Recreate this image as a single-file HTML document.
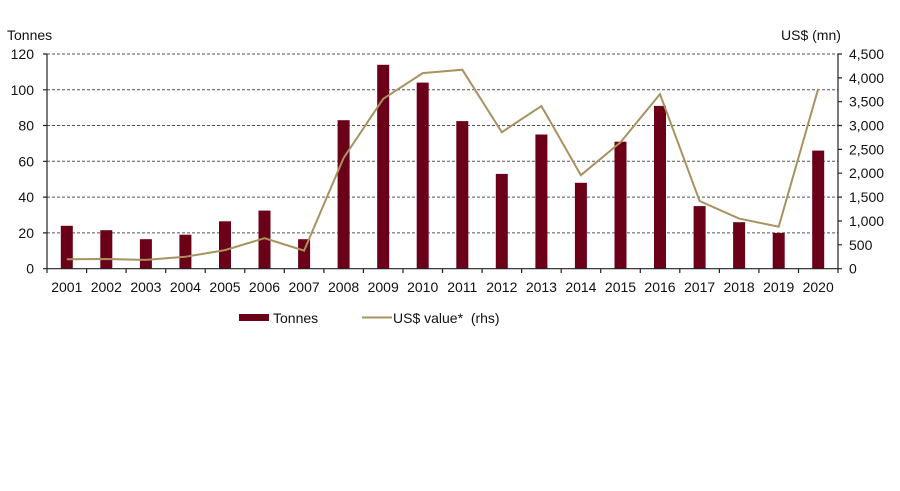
<!DOCTYPE html>
<html><head><meta charset="utf-8"><style>html,body{margin:0;padding:0;background:#fff}svg{display:block}text{font-family:"Liberation Sans",Arial,sans-serif;font-size:14px;fill:#111}</style></head><body>
<svg width="900" height="491" viewBox="0 0 900 491" xmlns="http://www.w3.org/2000/svg">
<g stroke="#555" stroke-width="1" stroke-dasharray="3,2">
<line x1="47" y1="54" x2="838" y2="54"/><line x1="47" y1="89.8" x2="838" y2="89.8"/><line x1="47" y1="125.5" x2="838" y2="125.5"/><line x1="47" y1="161.3" x2="838" y2="161.3"/><line x1="47" y1="197.1" x2="838" y2="197.1"/><line x1="47" y1="232.9" x2="838" y2="232.9"/>
</g>
<g fill="#6b0019">
<rect x="60.8" y="225.8" width="12" height="42.9"/><rect x="100.3" y="230.2" width="12" height="38.5"/><rect x="139.9" y="239.2" width="12" height="29.5"/><rect x="179.4" y="234.7" width="12" height="34"/><rect x="219" y="221.3" width="12" height="47.4"/><rect x="258.5" y="210.6" width="12" height="58.1"/><rect x="298.1" y="239.2" width="12" height="29.5"/><rect x="337.6" y="120.2" width="12" height="148.5"/><rect x="377.2" y="64.8" width="12" height="203.9"/><rect x="416.7" y="82.6" width="12" height="186.1"/><rect x="456.3" y="121.1" width="12" height="147.6"/><rect x="495.8" y="173.9" width="12" height="94.8"/><rect x="535.4" y="134.5" width="12" height="134.2"/><rect x="574.9" y="182.8" width="12" height="85.9"/><rect x="614.5" y="141.7" width="12" height="127"/><rect x="654" y="105.9" width="12" height="162.8"/><rect x="693.6" y="206.1" width="12" height="62.6"/><rect x="733.1" y="222.2" width="12" height="46.5"/><rect x="772.7" y="232.9" width="12" height="35.8"/><rect x="812.2" y="150.6" width="12" height="118.1"/>
</g>
<polyline fill="none" stroke="#a89260" stroke-width="2" points="66.8,259.2 106.3,259 145.9,259.9 185.4,256.8 225,250.1 264.5,238.2 304.1,250.6 343.6,158 383.2,98.8 422.7,73.1 462.3,69.7 501.8,132.2 541.4,106 580.9,175.2 620.5,142.3 660,94.1 699.6,201 739.1,218.6 778.7,226.7 818.2,88.8"/>
<g stroke="#222" stroke-width="1.2" fill="none">
<line x1="47" y1="54" x2="47" y2="268.7"/><line x1="838" y1="54" x2="838" y2="268.7"/><line x1="43" y1="268.7" x2="842" y2="268.7"/>
<path d="M43 54H47M43 89.8H47M43 125.5H47M43 161.3H47M43 197.1H47M43 232.9H47"/>
<path d="M838 54H842M838 77.9H842M838 101.7H842M838 125.5H842M838 149.4H842M838 173.2H842M838 197.1H842M838 221H842M838 244.8H842"/>
<path d="M47 268.7V273M86.6 268.7V273M126.1 268.7V273M165.7 268.7V273M205.2 268.7V273M244.8 268.7V273M284.3 268.7V273M323.9 268.7V273M363.4 268.7V273M403 268.7V273M442.5 268.7V273M482.1 268.7V273M521.6 268.7V273M561.2 268.7V273M600.7 268.7V273M640.3 268.7V273M679.8 268.7V273M719.4 268.7V273M758.9 268.7V273M798.5 268.7V273M838 268.7V273"/>
</g>
<text x="7" y="40">Tonnes</text>
<text x="781" y="40">US$ (mn)</text>
<g text-anchor="end">
<text x="34" y="59">120</text><text x="34" y="94.8">100</text><text x="34" y="130.5">80</text><text x="34" y="166.3">60</text><text x="34" y="202.1">40</text><text x="34" y="237.9">20</text><text x="34" y="273.7">0</text>
</g>
<g>
<text x="849" y="59">4,500</text><text x="849" y="82.9">4,000</text><text x="849" y="106.7">3,500</text><text x="849" y="130.5">3,000</text><text x="849" y="154.4">2,500</text><text x="849" y="178.2">2,000</text><text x="849" y="202.1">1,500</text><text x="849" y="226">1,000</text><text x="849" y="249.8">500</text><text x="849" y="273.7">0</text>
</g>
<g text-anchor="middle">
<text x="66.8" y="292">2001</text><text x="106.3" y="292">2002</text><text x="145.9" y="292">2003</text><text x="185.4" y="292">2004</text><text x="225" y="292">2005</text><text x="264.5" y="292">2006</text><text x="304.1" y="292">2007</text><text x="343.6" y="292">2008</text><text x="383.2" y="292">2009</text><text x="422.7" y="292">2010</text><text x="462.3" y="292">2011</text><text x="501.8" y="292">2012</text><text x="541.4" y="292">2013</text><text x="580.9" y="292">2014</text><text x="620.5" y="292">2015</text><text x="660" y="292">2016</text><text x="699.6" y="292">2017</text><text x="739.1" y="292">2018</text><text x="778.7" y="292">2019</text><text x="818.2" y="292">2020</text>
</g>
<rect x="239" y="314" width="30" height="7" fill="#6b0019"/>
<text x="273" y="323">Tonnes</text>
<line x1="362" y1="317.5" x2="392" y2="317.5" stroke="#a89260" stroke-width="2"/>
<text x="393" y="323">US$ value*&#160; (rhs)</text>
</svg>
</body></html>
